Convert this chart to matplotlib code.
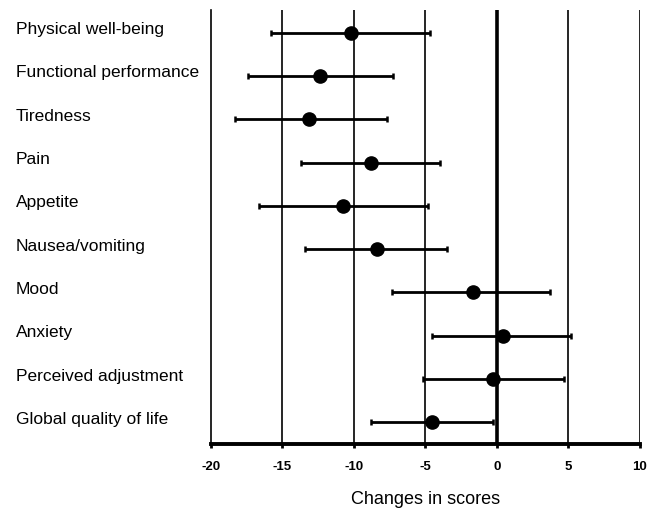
import matplotlib
matplotlib.use('Agg')
import matplotlib.pyplot as plt
import matplotlib.transforms as mtransforms

plt.rcParams['font.family'] = ['Liberation Sans', 'DejaVu Sans']

# ── DATA ─────────────────────────────────────────────────────
labels = ['Physical well-being', 'Functional performance', 'Tiredness',
          'Pain', 'Appetite', 'Nausea/vomiting', 'Mood', 'Anxiety',
          'Perceived adjustment', 'Global quality of life']
means = [-10.2, -12.4, -13.1, -8.8, -10.75, -8.4, -1.7, 0.4, -0.3, -4.5]
lower = [-15.8, -17.4, -18.3, -13.7, -16.6, -13.4, -7.3, -4.5, -5.15, -8.8]
upper = [-4.7, -7.25, -7.7, -4.0, -4.8, -3.5, 3.7, 5.2, 4.7, -0.3]
xticks = [-20, -15, -10, -5, 0, 5, 10]

# ── PLOT ─────────────────────────────────────────────────────
fig = plt.figure(figsize=(6.63, 5.08), dpi=100)
ax = fig.add_axes([0.318, 0.126, 0.647, 0.854])

ypos = list(range(1, len(labels) + 1))

# vertical reference lines
for t in xticks[1:]:
    ax.axvline(t, color='black', linewidth=2.6 if t == 0 else 1.2, zorder=1)

err_lo = [m - l for m, l in zip(means, lower)]
err_hi = [u - m for m, u in zip(means, upper)]
ax.errorbar(means, ypos, xerr=[err_lo, err_hi], fmt='o', color='black',
            markersize=9.5, elinewidth=2.0, capsize=2.5, capthick=1.8,
            zorder=3)

ax.set_xlim(-20, 10)
ax.set_ylim(10.5, 0.48)
ax.set_xticks(xticks)
ax.set_xticklabels([str(t) for t in xticks], fontsize=9.5, fontweight='bold')
ax.set_yticks([])
ax.tick_params(axis='x', direction='out', length=3, width=2, pad=9)

for s in ['top', 'right']:
    ax.spines[s].set_visible(False)
ax.spines['left'].set_linewidth(1.2)
ax.spines['bottom'].set_linewidth(2.8)

ax.set_xlabel('Changes in scores', fontsize=13, labelpad=13)

# row labels on the left, outside the axes, sitting slightly above each row
trans = mtransforms.blended_transform_factory(fig.transFigure, ax.transData)
trans = trans + mtransforms.ScaledTranslation(0, 3 / 100, fig.dpi_scale_trans)
for y, lab in zip(ypos, labels):
    ax.text(16 / 663, y, lab, transform=trans, ha='left', va='center',
            fontsize=12.5, clip_on=False)

fig.savefig('out.png', dpi=100)
